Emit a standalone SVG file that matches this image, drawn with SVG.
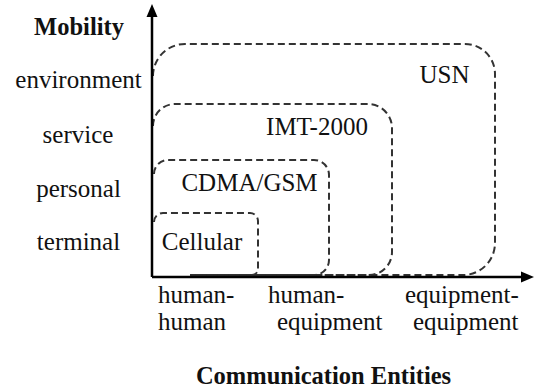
<svg xmlns="http://www.w3.org/2000/svg" width="538" height="391" viewBox="0 0 538 391">
<style>
text{font-family:"Liberation Serif","Times New Roman",serif;font-size:25px;fill:#111}
.b{font-weight:bold;font-size:24.5px}
.m{text-anchor:middle}
.box{fill:none;stroke:#333;stroke-width:2;stroke-dasharray:7 4}
.axis{fill:none;stroke:#000;stroke-width:2.5}
</style>
<rect width="538" height="391" fill="#fff"/>
<g id="connectors">
<g id="usn-box"><path class="box" d="M153,76 A32,32 0 0 1 185,44 H465 A30,30 0 0 1 495,74 V243 A32,32 0 0 1 463,275 H190"/></g>
<g id="imt-box"><path class="box" d="M153,126 A22,22 0 0 1 175,104 H368 A24,24 0 0 1 392,128 V252 A23,23 0 0 1 369,275 H190"/></g>
<g id="cdma-box"><path class="box" d="M154,174 A14,14 0 0 1 168,160 H314 A15,15 0 0 1 329,175 V260 A15,15 0 0 1 314,275 H190"/></g>
<g id="cellular-box"><path class="box" d="M154,222 A9,9 0 0 1 163,213 H250 A8,8 0 0 1 258,221 V269 A6,6 0 0 1 252,275 H190"/></g>
<path class="axis" d="M152,277 V15"/>
<path class="axis" d="M152,277 H522"/>
<polygon points="152,4 146.5,17 157.5,17" fill="#000"/>
<polygon points="534,277 521,271.5 521,282.5" fill="#000"/>
</g>
<g id="y-axis-labels">
<text class="b m" x="79" y="35">Mobility</text>
<text class="m" x="78.5" y="88">environment</text>
<text class="m" x="78" y="143">service</text>
<text class="m" x="78.5" y="197">personal</text>
<text class="m" x="78.5" y="250">terminal</text>
</g>
<g id="usn"><text class="m" x="444.5" y="83">USN</text></g>
<g id="imt-2000"><text class="m" x="317" y="135">IMT-2000</text></g>
<g id="cdma-gsm"><text class="m" x="249.5" y="191">CDMA/GSM</text></g>
<g id="cellular"><text class="m" x="202" y="250">Cellular</text></g>
<g id="x-axis-labels">
<text x="158" y="303">human-</text>
<text x="158" y="330">human</text>
<text x="268" y="303">human-</text>
<text x="277" y="330">equipment</text>
<text x="405" y="303">equipment-</text>
<text x="413" y="330">equipment</text>
<text class="b m" x="323.5" y="384">Communication Entities</text>
</g>
</svg>
